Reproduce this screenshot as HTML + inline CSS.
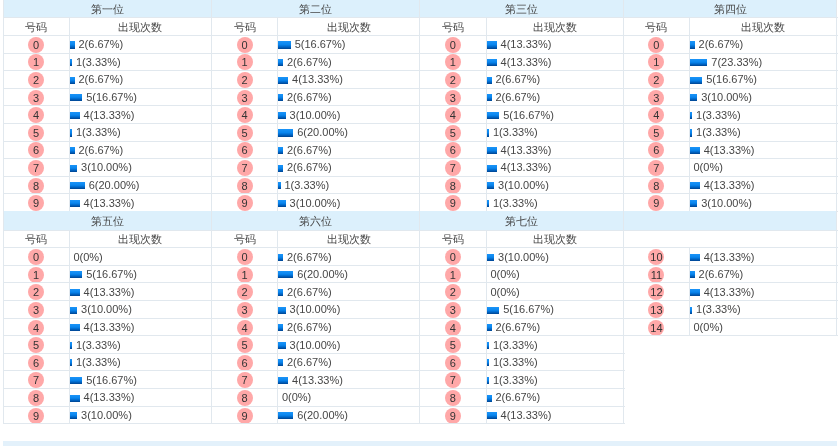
<!DOCTYPE html>
<html><head><meta charset="utf-8"><style>
html,body{margin:0;padding:0;background:#fff;width:840px;height:446px;overflow:hidden;position:relative}
#wrap{position:absolute;left:0;top:0;width:840px;height:446px;filter:blur(0.4px)}
#wrap>div{position:absolute;box-sizing:border-box}
body{font-family:"Liberation Sans",sans-serif;font-size:11px;color:#464646}
.c{text-align:center;white-space:nowrap}
.v{white-space:nowrap}
.circ{width:16px;height:16px;border-radius:50%;background:#ffa8a8;text-align:center;line-height:16px;font-size:11px;color:#333}
.bar{height:7.2px;background:linear-gradient(#1b94f8 0%,#0a86ee 45%,#0067c8 72%,#00438f 100%)}
</style></head><body>
<div id="wrap">
<div style="left:3.00px;top:-1.00px;width:208.50px;height:18.70px;background:#dcf0fc;"></div>
<div class="c" style="left:3.00px;top:0.00px;width:208.50px;height:18.70px;line-height:18.70px">第一位</div>
<div class="c" style="left:3.00px;top:18.70px;width:66.20px;height:17.50px;line-height:17.50px">号码</div>
<div class="c" style="left:69.20px;top:18.70px;width:142.30px;height:17.50px;line-height:17.50px">出现次数</div>
<div class="circ" style="left:28.10px;top:36.80px">0</div>
<div class="bar" style="left:69.50px;top:41.40px;width:5.40px"></div>
<div class="v" style="left:78.50px;top:36.20px;height:17.60px;line-height:17.60px">2(6.67%)</div>
<div class="circ" style="left:28.10px;top:54.40px">1</div>
<div class="bar" style="left:69.50px;top:59.00px;width:2.90px"></div>
<div class="v" style="left:75.95px;top:53.80px;height:17.60px;line-height:17.60px">1(3.33%)</div>
<div class="circ" style="left:28.10px;top:72.00px">2</div>
<div class="bar" style="left:69.50px;top:76.60px;width:5.40px"></div>
<div class="v" style="left:78.50px;top:71.40px;height:17.60px;line-height:17.60px">2(6.67%)</div>
<div class="circ" style="left:28.10px;top:89.60px">3</div>
<div class="bar" style="left:69.50px;top:94.20px;width:12.90px"></div>
<div class="v" style="left:86.15px;top:89.00px;height:17.60px;line-height:17.60px">5(16.67%)</div>
<div class="circ" style="left:28.10px;top:107.20px">4</div>
<div class="bar" style="left:69.50px;top:111.80px;width:10.40px"></div>
<div class="v" style="left:83.60px;top:106.60px;height:17.60px;line-height:17.60px">4(13.33%)</div>
<div class="circ" style="left:28.10px;top:124.80px">5</div>
<div class="bar" style="left:69.50px;top:129.40px;width:2.90px"></div>
<div class="v" style="left:75.95px;top:124.20px;height:17.60px;line-height:17.60px">1(3.33%)</div>
<div class="circ" style="left:28.10px;top:142.40px">6</div>
<div class="bar" style="left:69.50px;top:147.00px;width:5.40px"></div>
<div class="v" style="left:78.50px;top:141.80px;height:17.60px;line-height:17.60px">2(6.67%)</div>
<div class="circ" style="left:28.10px;top:160.00px">7</div>
<div class="bar" style="left:69.50px;top:164.60px;width:7.90px"></div>
<div class="v" style="left:81.05px;top:159.40px;height:17.60px;line-height:17.60px">3(10.00%)</div>
<div class="circ" style="left:28.10px;top:177.60px">8</div>
<div class="bar" style="left:69.50px;top:182.20px;width:15.40px"></div>
<div class="v" style="left:88.70px;top:177.00px;height:17.60px;line-height:17.60px">6(20.00%)</div>
<div class="circ" style="left:28.10px;top:195.20px">9</div>
<div class="bar" style="left:69.50px;top:199.80px;width:10.40px"></div>
<div class="v" style="left:83.60px;top:194.60px;height:17.60px;line-height:17.60px">4(13.33%)</div>
<div style="left:3.00px;top:17.40px;width:209.50px;height:1.00px;background:#e1e8ee;"></div>
<div style="left:3.00px;top:34.90px;width:209.50px;height:1.00px;background:#e1e8ee;"></div>
<div style="left:3.00px;top:52.50px;width:209.50px;height:1.00px;background:#e1e8ee;"></div>
<div style="left:3.00px;top:70.10px;width:209.50px;height:1.00px;background:#e1e8ee;"></div>
<div style="left:3.00px;top:87.70px;width:209.50px;height:1.00px;background:#e1e8ee;"></div>
<div style="left:3.00px;top:105.30px;width:209.50px;height:1.00px;background:#e1e8ee;"></div>
<div style="left:3.00px;top:122.90px;width:209.50px;height:1.00px;background:#e1e8ee;"></div>
<div style="left:3.00px;top:140.50px;width:209.50px;height:1.00px;background:#e1e8ee;"></div>
<div style="left:3.00px;top:158.10px;width:209.50px;height:1.00px;background:#e1e8ee;"></div>
<div style="left:3.00px;top:175.70px;width:209.50px;height:1.00px;background:#e1e8ee;"></div>
<div style="left:3.00px;top:193.30px;width:209.50px;height:1.00px;background:#e1e8ee;"></div>
<div style="left:3.00px;top:210.90px;width:209.50px;height:1.00px;background:#e1e8ee;"></div>
<div style="left:2.50px;top:-1.00px;width:1.00px;height:212.70px;background:#e1e8ee;"></div>
<div style="left:211.00px;top:-1.00px;width:1.00px;height:212.70px;background:#e1e8ee;"></div>
<div style="left:68.70px;top:17.70px;width:1.00px;height:193.50px;background:#e1e8ee;"></div>
<div style="left:211.50px;top:-1.00px;width:208.00px;height:18.70px;background:#dcf0fc;"></div>
<div class="c" style="left:211.50px;top:0.00px;width:208.00px;height:18.70px;line-height:18.70px">第二位</div>
<div class="c" style="left:211.50px;top:18.70px;width:66.20px;height:17.50px;line-height:17.50px">号码</div>
<div class="c" style="left:277.70px;top:18.70px;width:141.80px;height:17.50px;line-height:17.50px">出现次数</div>
<div class="circ" style="left:236.60px;top:36.80px">0</div>
<div class="bar" style="left:278.00px;top:41.40px;width:12.90px"></div>
<div class="v" style="left:294.65px;top:36.20px;height:17.60px;line-height:17.60px">5(16.67%)</div>
<div class="circ" style="left:236.60px;top:54.40px">1</div>
<div class="bar" style="left:278.00px;top:59.00px;width:5.40px"></div>
<div class="v" style="left:287.00px;top:53.80px;height:17.60px;line-height:17.60px">2(6.67%)</div>
<div class="circ" style="left:236.60px;top:72.00px">2</div>
<div class="bar" style="left:278.00px;top:76.60px;width:10.40px"></div>
<div class="v" style="left:292.10px;top:71.40px;height:17.60px;line-height:17.60px">4(13.33%)</div>
<div class="circ" style="left:236.60px;top:89.60px">3</div>
<div class="bar" style="left:278.00px;top:94.20px;width:5.40px"></div>
<div class="v" style="left:287.00px;top:89.00px;height:17.60px;line-height:17.60px">2(6.67%)</div>
<div class="circ" style="left:236.60px;top:107.20px">4</div>
<div class="bar" style="left:278.00px;top:111.80px;width:7.90px"></div>
<div class="v" style="left:289.55px;top:106.60px;height:17.60px;line-height:17.60px">3(10.00%)</div>
<div class="circ" style="left:236.60px;top:124.80px">5</div>
<div class="bar" style="left:278.00px;top:129.40px;width:15.40px"></div>
<div class="v" style="left:297.20px;top:124.20px;height:17.60px;line-height:17.60px">6(20.00%)</div>
<div class="circ" style="left:236.60px;top:142.40px">6</div>
<div class="bar" style="left:278.00px;top:147.00px;width:5.40px"></div>
<div class="v" style="left:287.00px;top:141.80px;height:17.60px;line-height:17.60px">2(6.67%)</div>
<div class="circ" style="left:236.60px;top:160.00px">7</div>
<div class="bar" style="left:278.00px;top:164.60px;width:5.40px"></div>
<div class="v" style="left:287.00px;top:159.40px;height:17.60px;line-height:17.60px">2(6.67%)</div>
<div class="circ" style="left:236.60px;top:177.60px">8</div>
<div class="bar" style="left:278.00px;top:182.20px;width:2.90px"></div>
<div class="v" style="left:284.45px;top:177.00px;height:17.60px;line-height:17.60px">1(3.33%)</div>
<div class="circ" style="left:236.60px;top:195.20px">9</div>
<div class="bar" style="left:278.00px;top:199.80px;width:7.90px"></div>
<div class="v" style="left:289.55px;top:194.60px;height:17.60px;line-height:17.60px">3(10.00%)</div>
<div style="left:211.50px;top:17.40px;width:209.00px;height:1.00px;background:#e1e8ee;"></div>
<div style="left:211.50px;top:34.90px;width:209.00px;height:1.00px;background:#e1e8ee;"></div>
<div style="left:211.50px;top:52.50px;width:209.00px;height:1.00px;background:#e1e8ee;"></div>
<div style="left:211.50px;top:70.10px;width:209.00px;height:1.00px;background:#e1e8ee;"></div>
<div style="left:211.50px;top:87.70px;width:209.00px;height:1.00px;background:#e1e8ee;"></div>
<div style="left:211.50px;top:105.30px;width:209.00px;height:1.00px;background:#e1e8ee;"></div>
<div style="left:211.50px;top:122.90px;width:209.00px;height:1.00px;background:#e1e8ee;"></div>
<div style="left:211.50px;top:140.50px;width:209.00px;height:1.00px;background:#e1e8ee;"></div>
<div style="left:211.50px;top:158.10px;width:209.00px;height:1.00px;background:#e1e8ee;"></div>
<div style="left:211.50px;top:175.70px;width:209.00px;height:1.00px;background:#e1e8ee;"></div>
<div style="left:211.50px;top:193.30px;width:209.00px;height:1.00px;background:#e1e8ee;"></div>
<div style="left:211.50px;top:210.90px;width:209.00px;height:1.00px;background:#e1e8ee;"></div>
<div style="left:211.00px;top:-1.00px;width:1.00px;height:212.70px;background:#e1e8ee;"></div>
<div style="left:419.00px;top:-1.00px;width:1.00px;height:212.70px;background:#e1e8ee;"></div>
<div style="left:277.20px;top:17.70px;width:1.00px;height:193.50px;background:#e1e8ee;"></div>
<div style="left:419.50px;top:-1.00px;width:204.00px;height:18.70px;background:#dcf0fc;"></div>
<div class="c" style="left:419.50px;top:0.00px;width:204.00px;height:18.70px;line-height:18.70px">第三位</div>
<div class="c" style="left:419.50px;top:18.70px;width:66.70px;height:17.50px;line-height:17.50px">号码</div>
<div class="c" style="left:486.20px;top:18.70px;width:137.30px;height:17.50px;line-height:17.50px">出现次数</div>
<div class="circ" style="left:444.85px;top:36.80px">0</div>
<div class="bar" style="left:486.50px;top:41.40px;width:10.40px"></div>
<div class="v" style="left:500.60px;top:36.20px;height:17.60px;line-height:17.60px">4(13.33%)</div>
<div class="circ" style="left:444.85px;top:54.40px">1</div>
<div class="bar" style="left:486.50px;top:59.00px;width:10.40px"></div>
<div class="v" style="left:500.60px;top:53.80px;height:17.60px;line-height:17.60px">4(13.33%)</div>
<div class="circ" style="left:444.85px;top:72.00px">2</div>
<div class="bar" style="left:486.50px;top:76.60px;width:5.40px"></div>
<div class="v" style="left:495.50px;top:71.40px;height:17.60px;line-height:17.60px">2(6.67%)</div>
<div class="circ" style="left:444.85px;top:89.60px">3</div>
<div class="bar" style="left:486.50px;top:94.20px;width:5.40px"></div>
<div class="v" style="left:495.50px;top:89.00px;height:17.60px;line-height:17.60px">2(6.67%)</div>
<div class="circ" style="left:444.85px;top:107.20px">4</div>
<div class="bar" style="left:486.50px;top:111.80px;width:12.90px"></div>
<div class="v" style="left:503.15px;top:106.60px;height:17.60px;line-height:17.60px">5(16.67%)</div>
<div class="circ" style="left:444.85px;top:124.80px">5</div>
<div class="bar" style="left:486.50px;top:129.40px;width:2.90px"></div>
<div class="v" style="left:492.95px;top:124.20px;height:17.60px;line-height:17.60px">1(3.33%)</div>
<div class="circ" style="left:444.85px;top:142.40px">6</div>
<div class="bar" style="left:486.50px;top:147.00px;width:10.40px"></div>
<div class="v" style="left:500.60px;top:141.80px;height:17.60px;line-height:17.60px">4(13.33%)</div>
<div class="circ" style="left:444.85px;top:160.00px">7</div>
<div class="bar" style="left:486.50px;top:164.60px;width:10.40px"></div>
<div class="v" style="left:500.60px;top:159.40px;height:17.60px;line-height:17.60px">4(13.33%)</div>
<div class="circ" style="left:444.85px;top:177.60px">8</div>
<div class="bar" style="left:486.50px;top:182.20px;width:7.90px"></div>
<div class="v" style="left:498.05px;top:177.00px;height:17.60px;line-height:17.60px">3(10.00%)</div>
<div class="circ" style="left:444.85px;top:195.20px">9</div>
<div class="bar" style="left:486.50px;top:199.80px;width:2.90px"></div>
<div class="v" style="left:492.95px;top:194.60px;height:17.60px;line-height:17.60px">1(3.33%)</div>
<div style="left:419.50px;top:17.40px;width:205.00px;height:1.00px;background:#e1e8ee;"></div>
<div style="left:419.50px;top:34.90px;width:205.00px;height:1.00px;background:#e1e8ee;"></div>
<div style="left:419.50px;top:52.50px;width:205.00px;height:1.00px;background:#e1e8ee;"></div>
<div style="left:419.50px;top:70.10px;width:205.00px;height:1.00px;background:#e1e8ee;"></div>
<div style="left:419.50px;top:87.70px;width:205.00px;height:1.00px;background:#e1e8ee;"></div>
<div style="left:419.50px;top:105.30px;width:205.00px;height:1.00px;background:#e1e8ee;"></div>
<div style="left:419.50px;top:122.90px;width:205.00px;height:1.00px;background:#e1e8ee;"></div>
<div style="left:419.50px;top:140.50px;width:205.00px;height:1.00px;background:#e1e8ee;"></div>
<div style="left:419.50px;top:158.10px;width:205.00px;height:1.00px;background:#e1e8ee;"></div>
<div style="left:419.50px;top:175.70px;width:205.00px;height:1.00px;background:#e1e8ee;"></div>
<div style="left:419.50px;top:193.30px;width:205.00px;height:1.00px;background:#e1e8ee;"></div>
<div style="left:419.50px;top:210.90px;width:205.00px;height:1.00px;background:#e1e8ee;"></div>
<div style="left:419.00px;top:-1.00px;width:1.00px;height:212.70px;background:#e1e8ee;"></div>
<div style="left:623.00px;top:-1.00px;width:1.00px;height:212.70px;background:#e1e8ee;"></div>
<div style="left:485.70px;top:17.70px;width:1.00px;height:193.50px;background:#e1e8ee;"></div>
<div style="left:623.50px;top:-1.00px;width:213.10px;height:18.70px;background:#dcf0fc;"></div>
<div class="c" style="left:623.50px;top:0.00px;width:213.10px;height:18.70px;line-height:18.70px">第四位</div>
<div class="c" style="left:623.50px;top:18.70px;width:65.80px;height:17.50px;line-height:17.50px">号码</div>
<div class="c" style="left:689.30px;top:18.70px;width:147.30px;height:17.50px;line-height:17.50px">出现次数</div>
<div class="circ" style="left:648.40px;top:36.80px">0</div>
<div class="bar" style="left:689.60px;top:41.40px;width:5.40px"></div>
<div class="v" style="left:698.60px;top:36.20px;height:17.60px;line-height:17.60px">2(6.67%)</div>
<div class="circ" style="left:648.40px;top:54.40px">1</div>
<div class="bar" style="left:689.60px;top:59.00px;width:17.90px"></div>
<div class="v" style="left:711.35px;top:53.80px;height:17.60px;line-height:17.60px">7(23.33%)</div>
<div class="circ" style="left:648.40px;top:72.00px">2</div>
<div class="bar" style="left:689.60px;top:76.60px;width:12.90px"></div>
<div class="v" style="left:706.25px;top:71.40px;height:17.60px;line-height:17.60px">5(16.67%)</div>
<div class="circ" style="left:648.40px;top:89.60px">3</div>
<div class="bar" style="left:689.60px;top:94.20px;width:7.90px"></div>
<div class="v" style="left:701.15px;top:89.00px;height:17.60px;line-height:17.60px">3(10.00%)</div>
<div class="circ" style="left:648.40px;top:107.20px">4</div>
<div class="bar" style="left:689.60px;top:111.80px;width:2.90px"></div>
<div class="v" style="left:696.05px;top:106.60px;height:17.60px;line-height:17.60px">1(3.33%)</div>
<div class="circ" style="left:648.40px;top:124.80px">5</div>
<div class="bar" style="left:689.60px;top:129.40px;width:2.90px"></div>
<div class="v" style="left:696.05px;top:124.20px;height:17.60px;line-height:17.60px">1(3.33%)</div>
<div class="circ" style="left:648.40px;top:142.40px">6</div>
<div class="bar" style="left:689.60px;top:147.00px;width:10.40px"></div>
<div class="v" style="left:703.70px;top:141.80px;height:17.60px;line-height:17.60px">4(13.33%)</div>
<div class="circ" style="left:648.40px;top:160.00px">7</div>
<div class="v" style="left:693.50px;top:159.40px;height:17.60px;line-height:17.60px">0(0%)</div>
<div class="circ" style="left:648.40px;top:177.60px">8</div>
<div class="bar" style="left:689.60px;top:182.20px;width:10.40px"></div>
<div class="v" style="left:703.70px;top:177.00px;height:17.60px;line-height:17.60px">4(13.33%)</div>
<div class="circ" style="left:648.40px;top:195.20px">9</div>
<div class="bar" style="left:689.60px;top:199.80px;width:7.90px"></div>
<div class="v" style="left:701.15px;top:194.60px;height:17.60px;line-height:17.60px">3(10.00%)</div>
<div style="left:623.50px;top:17.40px;width:214.10px;height:1.00px;background:#e1e8ee;"></div>
<div style="left:623.50px;top:34.90px;width:214.10px;height:1.00px;background:#e1e8ee;"></div>
<div style="left:623.50px;top:52.50px;width:214.10px;height:1.00px;background:#e1e8ee;"></div>
<div style="left:623.50px;top:70.10px;width:214.10px;height:1.00px;background:#e1e8ee;"></div>
<div style="left:623.50px;top:87.70px;width:214.10px;height:1.00px;background:#e1e8ee;"></div>
<div style="left:623.50px;top:105.30px;width:214.10px;height:1.00px;background:#e1e8ee;"></div>
<div style="left:623.50px;top:122.90px;width:214.10px;height:1.00px;background:#e1e8ee;"></div>
<div style="left:623.50px;top:140.50px;width:214.10px;height:1.00px;background:#e1e8ee;"></div>
<div style="left:623.50px;top:158.10px;width:214.10px;height:1.00px;background:#e1e8ee;"></div>
<div style="left:623.50px;top:175.70px;width:214.10px;height:1.00px;background:#e1e8ee;"></div>
<div style="left:623.50px;top:193.30px;width:214.10px;height:1.00px;background:#e1e8ee;"></div>
<div style="left:623.50px;top:210.90px;width:214.10px;height:1.00px;background:#e1e8ee;"></div>
<div style="left:623.00px;top:-1.00px;width:1.00px;height:212.70px;background:#e1e8ee;"></div>
<div style="left:836.10px;top:-1.00px;width:1.00px;height:212.70px;background:#e1e8ee;"></div>
<div style="left:688.80px;top:17.70px;width:1.00px;height:193.50px;background:#e1e8ee;"></div>
<div style="left:3.00px;top:211.30px;width:208.50px;height:18.70px;background:#dcf0fc;"></div>
<div class="c" style="left:3.00px;top:211.80px;width:208.50px;height:18.70px;line-height:18.70px">第五位</div>
<div class="c" style="left:3.00px;top:231.00px;width:66.20px;height:17.50px;line-height:17.50px">号码</div>
<div class="c" style="left:69.20px;top:231.00px;width:142.30px;height:17.50px;line-height:17.50px">出现次数</div>
<div class="circ" style="left:28.10px;top:249.10px">0</div>
<div class="v" style="left:73.40px;top:248.50px;height:17.60px;line-height:17.60px">0(0%)</div>
<div class="circ" style="left:28.10px;top:266.70px">1</div>
<div class="bar" style="left:69.50px;top:271.30px;width:12.90px"></div>
<div class="v" style="left:86.15px;top:266.10px;height:17.60px;line-height:17.60px">5(16.67%)</div>
<div class="circ" style="left:28.10px;top:284.30px">2</div>
<div class="bar" style="left:69.50px;top:288.90px;width:10.40px"></div>
<div class="v" style="left:83.60px;top:283.70px;height:17.60px;line-height:17.60px">4(13.33%)</div>
<div class="circ" style="left:28.10px;top:301.90px">3</div>
<div class="bar" style="left:69.50px;top:306.50px;width:7.90px"></div>
<div class="v" style="left:81.05px;top:301.30px;height:17.60px;line-height:17.60px">3(10.00%)</div>
<div class="circ" style="left:28.10px;top:319.50px">4</div>
<div class="bar" style="left:69.50px;top:324.10px;width:10.40px"></div>
<div class="v" style="left:83.60px;top:318.90px;height:17.60px;line-height:17.60px">4(13.33%)</div>
<div class="circ" style="left:28.10px;top:337.10px">5</div>
<div class="bar" style="left:69.50px;top:341.70px;width:2.90px"></div>
<div class="v" style="left:75.95px;top:336.50px;height:17.60px;line-height:17.60px">1(3.33%)</div>
<div class="circ" style="left:28.10px;top:354.70px">6</div>
<div class="bar" style="left:69.50px;top:359.30px;width:2.90px"></div>
<div class="v" style="left:75.95px;top:354.10px;height:17.60px;line-height:17.60px">1(3.33%)</div>
<div class="circ" style="left:28.10px;top:372.30px">7</div>
<div class="bar" style="left:69.50px;top:376.90px;width:12.90px"></div>
<div class="v" style="left:86.15px;top:371.70px;height:17.60px;line-height:17.60px">5(16.67%)</div>
<div class="circ" style="left:28.10px;top:389.90px">8</div>
<div class="bar" style="left:69.50px;top:394.50px;width:10.40px"></div>
<div class="v" style="left:83.60px;top:389.30px;height:17.60px;line-height:17.60px">4(13.33%)</div>
<div class="circ" style="left:28.10px;top:407.50px">9</div>
<div class="bar" style="left:69.50px;top:412.10px;width:7.90px"></div>
<div class="v" style="left:81.05px;top:406.90px;height:17.60px;line-height:17.60px">3(10.00%)</div>
<div style="left:3.00px;top:229.70px;width:209.50px;height:1.00px;background:#e1e8ee;"></div>
<div style="left:3.00px;top:247.20px;width:209.50px;height:1.00px;background:#e1e8ee;"></div>
<div style="left:3.00px;top:264.80px;width:209.50px;height:1.00px;background:#e1e8ee;"></div>
<div style="left:3.00px;top:282.40px;width:209.50px;height:1.00px;background:#e1e8ee;"></div>
<div style="left:3.00px;top:300.00px;width:209.50px;height:1.00px;background:#e1e8ee;"></div>
<div style="left:3.00px;top:317.60px;width:209.50px;height:1.00px;background:#e1e8ee;"></div>
<div style="left:3.00px;top:335.20px;width:209.50px;height:1.00px;background:#e1e8ee;"></div>
<div style="left:3.00px;top:352.80px;width:209.50px;height:1.00px;background:#e1e8ee;"></div>
<div style="left:3.00px;top:370.40px;width:209.50px;height:1.00px;background:#e1e8ee;"></div>
<div style="left:3.00px;top:388.00px;width:209.50px;height:1.00px;background:#e1e8ee;"></div>
<div style="left:3.00px;top:405.60px;width:209.50px;height:1.00px;background:#e1e8ee;"></div>
<div style="left:3.00px;top:423.20px;width:209.50px;height:1.00px;background:#e1e8ee;"></div>
<div style="left:2.50px;top:211.30px;width:1.00px;height:212.70px;background:#e1e8ee;"></div>
<div style="left:211.00px;top:211.30px;width:1.00px;height:212.70px;background:#e1e8ee;"></div>
<div style="left:68.70px;top:230.00px;width:1.00px;height:193.50px;background:#e1e8ee;"></div>
<div style="left:211.50px;top:211.30px;width:208.00px;height:18.70px;background:#dcf0fc;"></div>
<div class="c" style="left:211.50px;top:211.80px;width:208.00px;height:18.70px;line-height:18.70px">第六位</div>
<div class="c" style="left:211.50px;top:231.00px;width:66.20px;height:17.50px;line-height:17.50px">号码</div>
<div class="c" style="left:277.70px;top:231.00px;width:141.80px;height:17.50px;line-height:17.50px">出现次数</div>
<div class="circ" style="left:236.60px;top:249.10px">0</div>
<div class="bar" style="left:278.00px;top:253.70px;width:5.40px"></div>
<div class="v" style="left:287.00px;top:248.50px;height:17.60px;line-height:17.60px">2(6.67%)</div>
<div class="circ" style="left:236.60px;top:266.70px">1</div>
<div class="bar" style="left:278.00px;top:271.30px;width:15.40px"></div>
<div class="v" style="left:297.20px;top:266.10px;height:17.60px;line-height:17.60px">6(20.00%)</div>
<div class="circ" style="left:236.60px;top:284.30px">2</div>
<div class="bar" style="left:278.00px;top:288.90px;width:5.40px"></div>
<div class="v" style="left:287.00px;top:283.70px;height:17.60px;line-height:17.60px">2(6.67%)</div>
<div class="circ" style="left:236.60px;top:301.90px">3</div>
<div class="bar" style="left:278.00px;top:306.50px;width:7.90px"></div>
<div class="v" style="left:289.55px;top:301.30px;height:17.60px;line-height:17.60px">3(10.00%)</div>
<div class="circ" style="left:236.60px;top:319.50px">4</div>
<div class="bar" style="left:278.00px;top:324.10px;width:5.40px"></div>
<div class="v" style="left:287.00px;top:318.90px;height:17.60px;line-height:17.60px">2(6.67%)</div>
<div class="circ" style="left:236.60px;top:337.10px">5</div>
<div class="bar" style="left:278.00px;top:341.70px;width:7.90px"></div>
<div class="v" style="left:289.55px;top:336.50px;height:17.60px;line-height:17.60px">3(10.00%)</div>
<div class="circ" style="left:236.60px;top:354.70px">6</div>
<div class="bar" style="left:278.00px;top:359.30px;width:5.40px"></div>
<div class="v" style="left:287.00px;top:354.10px;height:17.60px;line-height:17.60px">2(6.67%)</div>
<div class="circ" style="left:236.60px;top:372.30px">7</div>
<div class="bar" style="left:278.00px;top:376.90px;width:10.40px"></div>
<div class="v" style="left:292.10px;top:371.70px;height:17.60px;line-height:17.60px">4(13.33%)</div>
<div class="circ" style="left:236.60px;top:389.90px">8</div>
<div class="v" style="left:281.90px;top:389.30px;height:17.60px;line-height:17.60px">0(0%)</div>
<div class="circ" style="left:236.60px;top:407.50px">9</div>
<div class="bar" style="left:278.00px;top:412.10px;width:15.40px"></div>
<div class="v" style="left:297.20px;top:406.90px;height:17.60px;line-height:17.60px">6(20.00%)</div>
<div style="left:211.50px;top:229.70px;width:209.00px;height:1.00px;background:#e1e8ee;"></div>
<div style="left:211.50px;top:247.20px;width:209.00px;height:1.00px;background:#e1e8ee;"></div>
<div style="left:211.50px;top:264.80px;width:209.00px;height:1.00px;background:#e1e8ee;"></div>
<div style="left:211.50px;top:282.40px;width:209.00px;height:1.00px;background:#e1e8ee;"></div>
<div style="left:211.50px;top:300.00px;width:209.00px;height:1.00px;background:#e1e8ee;"></div>
<div style="left:211.50px;top:317.60px;width:209.00px;height:1.00px;background:#e1e8ee;"></div>
<div style="left:211.50px;top:335.20px;width:209.00px;height:1.00px;background:#e1e8ee;"></div>
<div style="left:211.50px;top:352.80px;width:209.00px;height:1.00px;background:#e1e8ee;"></div>
<div style="left:211.50px;top:370.40px;width:209.00px;height:1.00px;background:#e1e8ee;"></div>
<div style="left:211.50px;top:388.00px;width:209.00px;height:1.00px;background:#e1e8ee;"></div>
<div style="left:211.50px;top:405.60px;width:209.00px;height:1.00px;background:#e1e8ee;"></div>
<div style="left:211.50px;top:423.20px;width:209.00px;height:1.00px;background:#e1e8ee;"></div>
<div style="left:211.00px;top:211.30px;width:1.00px;height:212.70px;background:#e1e8ee;"></div>
<div style="left:419.00px;top:211.30px;width:1.00px;height:212.70px;background:#e1e8ee;"></div>
<div style="left:277.20px;top:230.00px;width:1.00px;height:193.50px;background:#e1e8ee;"></div>
<div style="left:419.50px;top:211.30px;width:204.00px;height:18.70px;background:#dcf0fc;"></div>
<div class="c" style="left:419.50px;top:211.80px;width:204.00px;height:18.70px;line-height:18.70px">第七位</div>
<div class="c" style="left:419.50px;top:231.00px;width:66.70px;height:17.50px;line-height:17.50px">号码</div>
<div class="c" style="left:486.20px;top:231.00px;width:137.30px;height:17.50px;line-height:17.50px">出现次数</div>
<div class="circ" style="left:444.85px;top:249.10px">0</div>
<div class="bar" style="left:486.50px;top:253.70px;width:7.90px"></div>
<div class="v" style="left:498.05px;top:248.50px;height:17.60px;line-height:17.60px">3(10.00%)</div>
<div class="circ" style="left:444.85px;top:266.70px">1</div>
<div class="v" style="left:490.40px;top:266.10px;height:17.60px;line-height:17.60px">0(0%)</div>
<div class="circ" style="left:444.85px;top:284.30px">2</div>
<div class="v" style="left:490.40px;top:283.70px;height:17.60px;line-height:17.60px">0(0%)</div>
<div class="circ" style="left:444.85px;top:301.90px">3</div>
<div class="bar" style="left:486.50px;top:306.50px;width:12.90px"></div>
<div class="v" style="left:503.15px;top:301.30px;height:17.60px;line-height:17.60px">5(16.67%)</div>
<div class="circ" style="left:444.85px;top:319.50px">4</div>
<div class="bar" style="left:486.50px;top:324.10px;width:5.40px"></div>
<div class="v" style="left:495.50px;top:318.90px;height:17.60px;line-height:17.60px">2(6.67%)</div>
<div class="circ" style="left:444.85px;top:337.10px">5</div>
<div class="bar" style="left:486.50px;top:341.70px;width:2.90px"></div>
<div class="v" style="left:492.95px;top:336.50px;height:17.60px;line-height:17.60px">1(3.33%)</div>
<div class="circ" style="left:444.85px;top:354.70px">6</div>
<div class="bar" style="left:486.50px;top:359.30px;width:2.90px"></div>
<div class="v" style="left:492.95px;top:354.10px;height:17.60px;line-height:17.60px">1(3.33%)</div>
<div class="circ" style="left:444.85px;top:372.30px">7</div>
<div class="bar" style="left:486.50px;top:376.90px;width:2.90px"></div>
<div class="v" style="left:492.95px;top:371.70px;height:17.60px;line-height:17.60px">1(3.33%)</div>
<div class="circ" style="left:444.85px;top:389.90px">8</div>
<div class="bar" style="left:486.50px;top:394.50px;width:5.40px"></div>
<div class="v" style="left:495.50px;top:389.30px;height:17.60px;line-height:17.60px">2(6.67%)</div>
<div class="circ" style="left:444.85px;top:407.50px">9</div>
<div class="bar" style="left:486.50px;top:412.10px;width:10.40px"></div>
<div class="v" style="left:500.60px;top:406.90px;height:17.60px;line-height:17.60px">4(13.33%)</div>
<div style="left:419.50px;top:229.70px;width:205.00px;height:1.00px;background:#e1e8ee;"></div>
<div style="left:419.50px;top:247.20px;width:205.00px;height:1.00px;background:#e1e8ee;"></div>
<div style="left:419.50px;top:264.80px;width:205.00px;height:1.00px;background:#e1e8ee;"></div>
<div style="left:419.50px;top:282.40px;width:205.00px;height:1.00px;background:#e1e8ee;"></div>
<div style="left:419.50px;top:300.00px;width:205.00px;height:1.00px;background:#e1e8ee;"></div>
<div style="left:419.50px;top:317.60px;width:205.00px;height:1.00px;background:#e1e8ee;"></div>
<div style="left:419.50px;top:335.20px;width:205.00px;height:1.00px;background:#e1e8ee;"></div>
<div style="left:419.50px;top:352.80px;width:205.00px;height:1.00px;background:#e1e8ee;"></div>
<div style="left:419.50px;top:370.40px;width:205.00px;height:1.00px;background:#e1e8ee;"></div>
<div style="left:419.50px;top:388.00px;width:205.00px;height:1.00px;background:#e1e8ee;"></div>
<div style="left:419.50px;top:405.60px;width:205.00px;height:1.00px;background:#e1e8ee;"></div>
<div style="left:419.50px;top:423.20px;width:205.00px;height:1.00px;background:#e1e8ee;"></div>
<div style="left:419.00px;top:211.30px;width:1.00px;height:212.70px;background:#e1e8ee;"></div>
<div style="left:623.00px;top:211.30px;width:1.00px;height:212.70px;background:#e1e8ee;"></div>
<div style="left:485.70px;top:230.00px;width:1.00px;height:193.50px;background:#e1e8ee;"></div>
<div style="left:623.50px;top:211.30px;width:213.10px;height:18.70px;background:#dcf0fc;"></div>
<div class="circ" style="left:648.40px;top:249.10px">10</div>
<div class="bar" style="left:689.60px;top:253.70px;width:10.40px"></div>
<div class="v" style="left:703.70px;top:248.50px;height:17.60px;line-height:17.60px">4(13.33%)</div>
<div class="circ" style="left:648.40px;top:266.70px">11</div>
<div class="bar" style="left:689.60px;top:271.30px;width:5.40px"></div>
<div class="v" style="left:698.60px;top:266.10px;height:17.60px;line-height:17.60px">2(6.67%)</div>
<div class="circ" style="left:648.40px;top:284.30px">12</div>
<div class="bar" style="left:689.60px;top:288.90px;width:10.40px"></div>
<div class="v" style="left:703.70px;top:283.70px;height:17.60px;line-height:17.60px">4(13.33%)</div>
<div class="circ" style="left:648.40px;top:301.90px">13</div>
<div class="bar" style="left:689.60px;top:306.50px;width:2.90px"></div>
<div class="v" style="left:696.05px;top:301.30px;height:17.60px;line-height:17.60px">1(3.33%)</div>
<div class="circ" style="left:648.40px;top:319.50px">14</div>
<div class="v" style="left:693.50px;top:318.90px;height:17.60px;line-height:17.60px">0(0%)</div>
<div style="left:623.50px;top:229.70px;width:214.10px;height:1.00px;background:#e1e8ee;"></div>
<div style="left:623.50px;top:247.20px;width:214.10px;height:1.00px;background:#e1e8ee;"></div>
<div style="left:623.50px;top:264.80px;width:214.10px;height:1.00px;background:#e1e8ee;"></div>
<div style="left:623.50px;top:282.40px;width:214.10px;height:1.00px;background:#e1e8ee;"></div>
<div style="left:623.50px;top:300.00px;width:214.10px;height:1.00px;background:#e1e8ee;"></div>
<div style="left:623.50px;top:317.60px;width:214.10px;height:1.00px;background:#e1e8ee;"></div>
<div style="left:623.50px;top:335.20px;width:214.10px;height:1.00px;background:#e1e8ee;"></div>
<div style="left:623.00px;top:211.30px;width:1.00px;height:124.70px;background:#e1e8ee;"></div>
<div style="left:836.10px;top:211.30px;width:1.00px;height:124.70px;background:#e1e8ee;"></div>
<div style="left:688.80px;top:247.50px;width:1.00px;height:88.00px;background:#e1e8ee;"></div>
<div style="left:3.00px;top:441.00px;width:834.00px;height:10.00px;background:#e3f1fb;"></div>
</div>
</body></html>
